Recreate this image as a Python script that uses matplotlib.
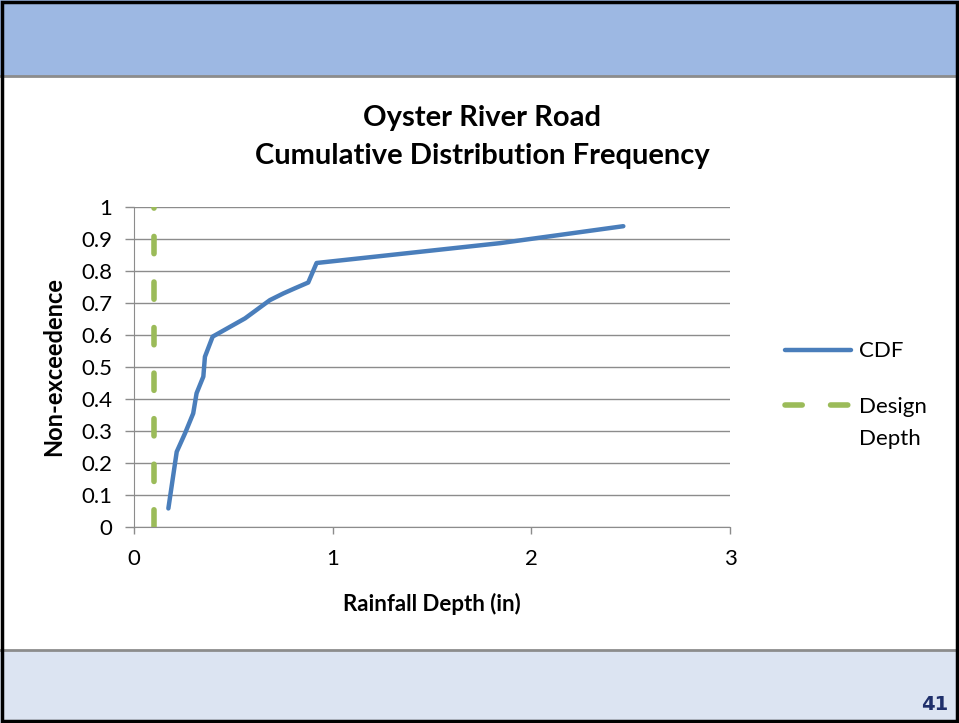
import matplotlib.pyplot as plt
from matplotlib.patches import Rectangle
from matplotlib.lines import Line2D

plt.rcParams['font.family'] = ['Lato', 'DejaVu Sans']

# CDF
depth = [0.173, 0.215, 0.257, 0.298, 0.315, 0.349, 0.357, 0.396, 0.559,
         0.684, 0.752, 0.81, 0.877, 0.919, 1.842, 2.463]
nonexc = [0.058, 0.235, 0.293, 0.355, 0.418, 0.47, 0.532, 0.595, 0.652,
          0.709, 0.73, 0.746, 0.764, 0.825, 0.887, 0.94]

# design depth line
design_x = [0.1, 0.1]
design_y = [0, 1]

xticks = [0, 1, 2, 3]
yticks = [0, 0.1, 0.2, 0.3, 0.4, 0.5, 0.6, 0.7, 0.8, 0.9, 1]
ytick_labels = ['0', '0.1', '0.2', '0.3', '0.4', '0.5', '0.6', '0.7', '0.8', '0.9', '1']

W, H = 959, 723
fig = plt.figure(figsize=(W / 100, H / 100), dpi=100)

# slide bands
fig.patches.append(Rectangle((0, 1 - 76 / H), 1, 76 / H, transform=fig.transFigure,
                             facecolor='#9db8e3', edgecolor='none', zorder=0))
fig.add_artist(Line2D([0, 1], [1 - 76 / H, 1 - 76 / H], transform=fig.transFigure,
                      color='#8c8c8c', lw=2))
fig.patches.append(Rectangle((0, 0), 1, 73 / H, transform=fig.transFigure,
                             facecolor='#dce4f2', edgecolor='none', zorder=0))
fig.add_artist(Line2D([0, 1], [73 / H, 73 / H], transform=fig.transFigure,
                      color='#8c8c8c', lw=2))
fig.patches.append(Rectangle((0.002, 0.003), 0.996, 0.994, transform=fig.transFigure,
                             facecolor='none', edgecolor='black', lw=2.5, zorder=5))
fig.text(948 / W, 1 - 705 / H, '41', ha='right', va='center', fontsize=14,
         fontweight='bold', color='#1f2f6b', family=['Liberation Sans Narrow', 'DejaVu Sans'])

ax = fig.add_axes([134 / W, 1 - 527 / H, 596 / W, 320 / H])
ax.plot(depth, nonexc, color='#4a7ebb', lw=3.2, solid_capstyle='round',
        solid_joinstyle='round', label='CDF', zorder=3)
ax.plot(design_x, design_y, color='#9bbb59', lw=4, dashes=(3.1, 5.1),
        dash_capstyle='round', label='Design', zorder=3)

ax.set_xlim(0, 3)
ax.set_ylim(0, 1)
ax.set_xticks(xticks)
ax.set_yticks(yticks)
ax.set_yticklabels(ytick_labels)
ax.grid(axis='y', color='#8c8c8c', lw=1)
ax.set_axisbelow(True)
for s in ['top', 'right']:
    ax.spines[s].set_visible(False)
for s in ['left', 'bottom']:
    ax.spines[s].set_color('#8c8c8c')
ax.tick_params(colors='#8c8c8c', labelcolor='black', labelsize=16, width=1)
ax.tick_params(axis='y', length=6.5, pad=9)
ax.tick_params(axis='x', length=5, pad=11)

ax.set_xlabel('Rainfall Depth (in)', fontsize=16, fontweight='bold', labelpad=17)
ax.set_ylabel('Non-exceedence', fontsize=17, fontweight='bold', labelpad=12)

fig.text(482 / W, 1 - 118 / H, 'Oyster River Road', ha='center', va='center',
         fontsize=21, fontweight='bold')
fig.text(482 / W, 1 - 156 / H, 'Cumulative Distribution Frequency', ha='center',
         va='center', fontsize=21, fontweight='bold')

leg = ax.legend(loc='center left', bbox_to_anchor=(1.092, 0.462), frameon=False,
                fontsize=16, handlelength=3.0, labelspacing=1.6, handletextpad=0.36,
                borderpad=0, borderaxespad=0)

# second line of the "Design Depth" label, under "Design"
fig.canvas.draw()
bb = leg.get_texts()[1].get_window_extent()
fig.text(bb.x0 / W, ((bb.y0 + bb.y1) / 2 - 32) / H, 'Depth', ha='left', va='center',
         fontsize=16)

fig.savefig('out.png', dpi=100)
